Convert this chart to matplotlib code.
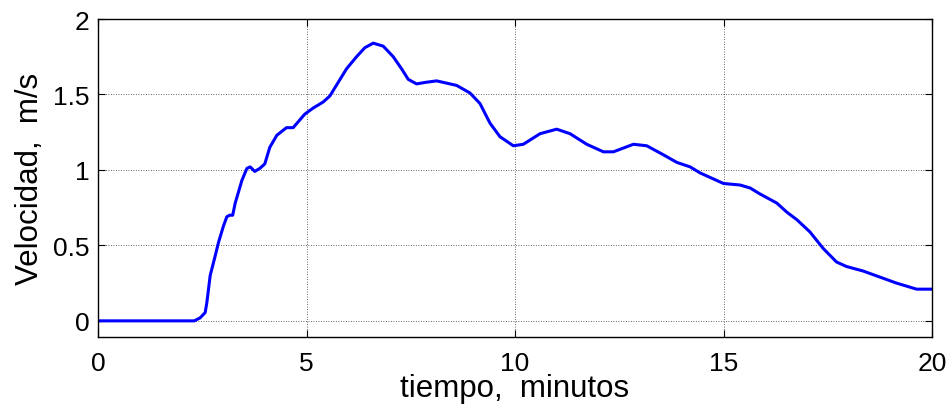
import numpy as np
import matplotlib
matplotlib.use("Agg")
import matplotlib.pyplot as plt

# ======================================================
# DATA
# ======================================================
tiempo = [0.0, 2.31, 2.45, 2.57, 2.61, 2.69, 2.81, 2.89, 3.01, 3.09, 3.16, 3.23,
          3.29, 3.45, 3.57, 3.65, 3.76, 3.88, 4.00, 4.12, 4.29, 4.52, 4.68,
          4.96, 5.16, 5.40, 5.56, 5.76, 5.96, 6.20, 6.40, 6.60, 6.84, 7.08,
          7.28, 7.44, 7.64, 7.85, 8.12, 8.60, 8.92, 9.16, 9.40, 9.64, 9.96,
          10.20, 10.60, 11.00, 11.32, 11.72, 12.12, 12.36, 12.84, 13.16,
          13.56, 13.88, 14.20, 14.44, 15.00, 15.40, 15.64, 15.88, 16.28,
          16.52, 16.76, 17.07, 17.39, 17.71, 17.95, 18.35, 18.75, 19.15,
          19.63, 20.0]
velocidad = [0.0, 0.0, 0.02, 0.055, 0.12, 0.30, 0.43, 0.52, 0.63, 0.69, 0.70, 0.70,
             0.78, 0.93, 1.01, 1.02, 0.99, 1.01, 1.04, 1.15, 1.23, 1.28, 1.28,
             1.37, 1.41, 1.45, 1.49, 1.58, 1.67, 1.75, 1.81, 1.84, 1.82, 1.75,
             1.67, 1.60, 1.57, 1.58, 1.59, 1.56, 1.51, 1.44, 1.31, 1.22, 1.16,
             1.17, 1.24, 1.27, 1.24, 1.17, 1.12, 1.12, 1.17, 1.16,
             1.10, 1.05, 1.02, 0.98, 0.91, 0.90, 0.88, 0.84, 0.78,
             0.72, 0.67, 0.59, 0.48, 0.39, 0.36, 0.33, 0.29, 0.25,
             0.21, 0.21]

XTICKS = [0, 5, 10, 15, 20]
YTICKS = [0, 0.5, 1, 1.5, 2]
YTICK_LABELS = ["0", "0.5", "1", "1.5", "2"]

# ======================================================
# PLOT
# ======================================================
plt.rcParams["font.family"] = ["Liberation Sans", "DejaVu Sans"]

fig = plt.figure(figsize=(9.48, 4.14), dpi=100)
ax = fig.add_axes([98 / 948, 76 / 414, 834 / 948, 318 / 414])

ax.plot(tiempo, velocidad, color="#0000ff", linewidth=2.2)

ax.set_xlim(0, 20)
ax.set_ylim(-0.107, 2.0)
ax.set_xticks(XTICKS)
ax.set_yticks(YTICKS)
ax.set_yticklabels(YTICK_LABELS)

ax.grid(True, color="black", linestyle=(0, (1, 2)), linewidth=0.6, alpha=0.8)
ax.tick_params(axis="x", pad=10)
ax.tick_params(axis="y", pad=6)
ax.tick_params(direction="in", length=5, width=0.8, labelsize=19,
               top=True, right=True)
for sp in ax.spines.values():
    sp.set_linewidth(1.0)

ax.set_xlabel("tiempo,  minutos", fontsize=22.5, labelpad=-1)
ax.set_ylabel("Velocidad,  m/s", fontsize=22.5, labelpad=6)

plt.savefig("out.png", dpi=100)
plt.close()
